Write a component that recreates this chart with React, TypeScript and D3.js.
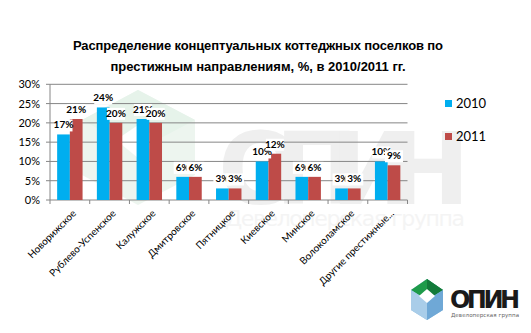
import React from "react";
import * as d3 from "d3";

const categories = ["Новорижское", "Рублево-Успенское", "Калужское", "Дмитровское", "Пятницкое", "Киевское", "Минское", "Волоколамское", "Другие престижные..."];
const series2010 = [17, 24, 21, 6, 3, 10, 6, 3, 10];
const series2011 = [21, 20, 20, 6, 3, 12, 6, 3, 9];
const seriesNames = ["2010", "2011"];
const colors = ["#00AEEF", "#BE4B48"];
const yTicks = [0, 5, 10, 15, 20, 25, 30];

const W = 531, H = 333;
const left = 50, right = 407.5, top = 84.3, bottom = 200;
const font = "Lato, 'Open Sans', sans-serif";

export default function App() {
  const x = d3.scaleBand<string>().domain(categories).range([left, right]).paddingInner(0.36).paddingOuter(0.18);
  const xs = d3.scaleBand<string>().domain(seriesNames).range([0, x.bandwidth()]);
  const y = d3.scaleLinear().domain([0, 30]).range([bottom, top]);
  const step = (right - left) / categories.length;
  const data = [series2010, series2011];

  return (
    <svg width={W} height={H} style={{ position: "absolute", left: 0, top: 0, background: "#fff" }} fontFamily={font}>
      {/* watermark */}
      <g opacity={0.55}>
        <polygon points="138,90 195,120 195,175 138,205 82,175 82,120" fill="#dfeee3" />
        <polygon points="138,90 195,120 138,150 82,120" fill="#d2eada" />
        <polygon points="138,125 160,140 138,158 116,140" fill="#ffffff" />
        <text x={218} y={204} fontSize={100} fontWeight="bold" fill="#e2e2e2" fontFamily="'DejaVu Sans', sans-serif" textLength={252}>ОПИН</text>
        <text x={225} y={226} fontSize={22} fill="#ececec" fontFamily="'DejaVu Sans', sans-serif" textLength={240}>Девелоперская группа</text>
      </g>

      <text x={258} y={50} textAnchor="middle" fontSize={13} fontWeight="bold" fill="#000" fontFamily="'Liberation Sans', sans-serif" textLength={370}>Распределение концептуальных коттеджных поселков по</text>
      <text x={258} y={71} textAnchor="middle" fontSize={13} fontWeight="bold" fill="#000" fontFamily="'Liberation Sans', sans-serif">престижным направлениям, %, в 2010/2011   гг.</text>

      {yTicks.map(t => (
        <g key={t}>
          {t > 0 && <line x1={left} x2={right} y1={y(t)} y2={y(t)} stroke="#868686" strokeWidth={1} />}
          <line x1={left - 4} x2={left} y1={y(t)} y2={y(t)} stroke="#868686" />
          <text x={40} y={y(t) + 4} textAnchor="end" fontSize={11} fill="#000">{t}%</text>
        </g>
      ))}
      <line x1={left} x2={left} y1={top} y2={bottom} stroke="#868686" />
      <line x1={left} x2={right} y1={bottom} y2={bottom} stroke="#868686" />
      {d3.range(categories.length + 1).map(i => (
        <line key={i} x1={left + step * i} x2={left + step * i} y1={bottom} y2={bottom + 4} stroke="#868686" />
      ))}

      {data.map((s, si) => s.map((v, i) => (
        <rect key={`${si}-${i}`} x={(x(categories[i]) as number) + (xs(seriesNames[si]) as number)} y={y(v)} width={xs.bandwidth()} height={bottom - y(v)} fill={colors[si]} />
      )))}

      {data.map((s, si) => s.map((v, i) => {
        const cx = (x(categories[i]) as number) + (xs(seriesNames[si]) as number) + xs.bandwidth() / 2;
        const by = y(v) - 6;
        return (
          <g key={`l${si}-${i}`}>
            <rect x={cx - 9} y={by - 9} width={18} height={12} fill="#fff" />
            <text x={cx} y={by} textAnchor="middle" fontSize={10} fontWeight="bold" fill="#000">{v}%</text>
          </g>
        );
      }))}

      {categories.map((c, i) => {
        const cx = (x(c) as number) + x.bandwidth() / 2 + 7;
        return (
          <text key={c} transform={`translate(${cx},${bottom + 14}) rotate(-45)`} textAnchor="end" fontSize={10} fill="#000">{c}</text>
        );
      })}

      {seriesNames.map((n, i) => (
        <g key={n}>
          <rect x={445} y={100 + i * 33} width={7} height={7} fill={colors[i]} />
          <text x={456} y={108 + i * 33} fontSize={13} fill="#000">{n}</text>
        </g>
      ))}

      {/* logo */}
      <g>
        <polygon points="427,279 443,290 443,310 427,320 411,310 411,290" fill="#8fbde0" />
        <polygon points="427,279 443,290 427,300 411,290" fill="#1e9b4a" />
        <polygon points="427,279 443,290 427,300" fill="#137a3a" />
        <polygon points="411,290 427,300 427,320 411,310" fill="#a9cde9" />
        <polygon points="427,300 443,290 443,310 427,320" fill="#6fa8d6" />
        <polygon points="427,289 435,296 427,303 419,296" fill="#ffffff" />
        <text x={450} y={308} fontSize={24} fontWeight="bold" fill="#1a1a1a" fontFamily="'DejaVu Sans', sans-serif" textLength={70}>ОПИН</text>
        <text x={451} y={317} fontSize={5.5} fill="#666" fontFamily="'DejaVu Sans', sans-serif" textLength={68}>Девелоперская группа</text>
      </g>
    </svg>
  );
}
